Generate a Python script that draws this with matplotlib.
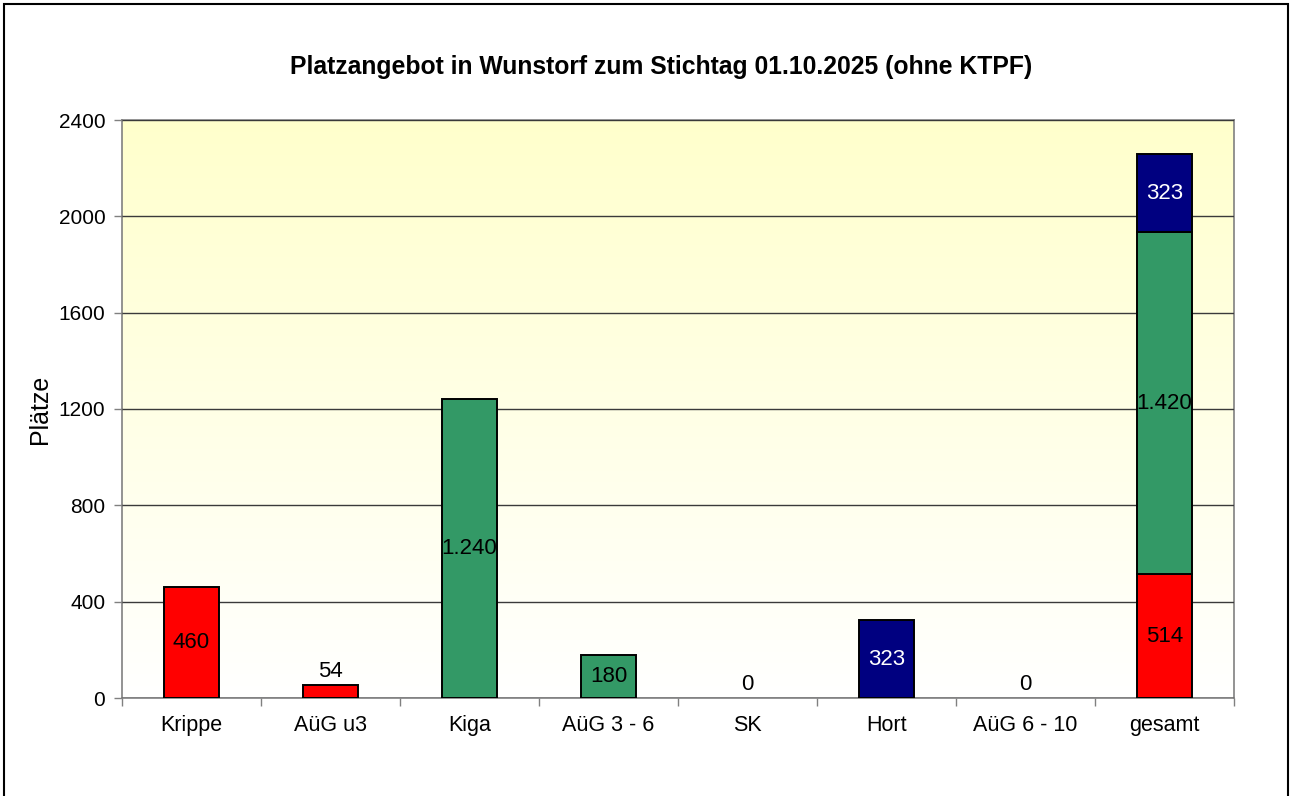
import numpy as np
import matplotlib.pyplot as plt
from matplotlib.patches import Rectangle

plt.rcParams['font.family'] = ['Liberation Sans', 'DejaVu Sans']

kategorien = ['Krippe', 'AüG u3', 'Kiga', 'AüG 3 - 6', 'SK', 'Hort', 'AüG 6 - 10', 'gesamt']
u3 = [460, 54, 0, 0, 0, 0, 0, 514]
ue3 = [0, 0, 1240, 180, 0, 0, 0, 1420]
schule = [0, 0, 0, 0, 0, 323, 0, 323]
# welche Reihe bei 0 beschriftet wird (SK -> 3-6, AüG 6-10 -> Schule)
null_reihe = {4: 1, 6: 2}

farben = ['#ff0000', '#339966', '#000080']
textfarben = ['black', 'black', 'white']

def fmt(v):
    return f'{v:,}'.replace(',', '.')

fig = plt.figure(figsize=(12.9, 7.96), dpi=100)
ax = fig.add_axes([122/1290, 1 - 698/796, 1112/1290, 578/796])

# Hintergrund: hellgelb oben, weiss unten
grad = np.linspace(1, 0, 256).reshape(-1, 1)
oben = np.array([255, 255, 204]) / 255
unten = np.array([255, 255, 255]) / 255
img = grad[..., None] * oben + (1 - grad[..., None]) * unten
ax.imshow(img, extent=[0, 1, 0, 1], transform=ax.transAxes, aspect='auto', zorder=0)

x = np.arange(len(kategorien))
unten_v = np.zeros(len(kategorien))
for i, reihe in enumerate([u3, ue3, schule]):
    werte = np.array(reihe)
    sichtbar = werte > 0
    ax.bar(x[sichtbar], werte[sichtbar], 0.4, bottom=unten_v[sichtbar], color=farben[i],
           edgecolor='black', linewidth=1.4, zorder=3)
    for j, v in enumerate(werte):
        if v == 0 and null_reihe.get(j) != i:
            continue
        if v >= 150:
            ax.text(x[j], unten_v[j] + v / 2, fmt(v), ha='center', va='center',
                    fontsize=16, color=textfarben[i], zorder=4)
        else:
            ax.text(x[j], unten_v[j] + v + 12, fmt(v), ha='center', va='bottom',
                    fontsize=16, color='black', zorder=4)
    unten_v = unten_v + werte

ax.set_xlim(-0.5, len(kategorien) - 0.5)
ax.set_ylim(0, 2400)
ax.set_yticks(range(0, 2401, 400))
ax.yaxis.grid(True, color='#3a3a3a', linewidth=1.0, zorder=1)
ax.set_axisbelow(False)
ax.set_xticks(x)
ax.set_xticklabels(kategorien, fontsize=15.5)
ax.set_xticks(np.arange(-0.5, len(kategorien)), minor=True)
ax.tick_params(axis='x', which='major', length=0, pad=12)
ax.tick_params(axis='x', which='minor', length=6, color='#808080', width=1)
ax.tick_params(axis='y', length=6, color='#808080', width=1, labelsize=15, pad=6)
for s in ax.spines.values():
    s.set_color('#808080')
    s.set_linewidth(1.2)
ax.set_ylabel('Plätze', fontsize=18, labelpad=5)

fig.text(661/1290, 1 - 67/796, 'Platzangebot in Wunstorf zum Stichtag 01.10.2025 (ohne KTPF)',
         ha='center', va='center', fontsize=17.8, fontweight='bold')

# Rahmen um die Grafik
fig.patches.append(Rectangle((4/1290, -0.05), 1284/1290, 1.05 - 4/796, transform=fig.transFigure,
                             fill=False, edgecolor='black', linewidth=1.5))

fig.savefig('out.png', dpi=100)
